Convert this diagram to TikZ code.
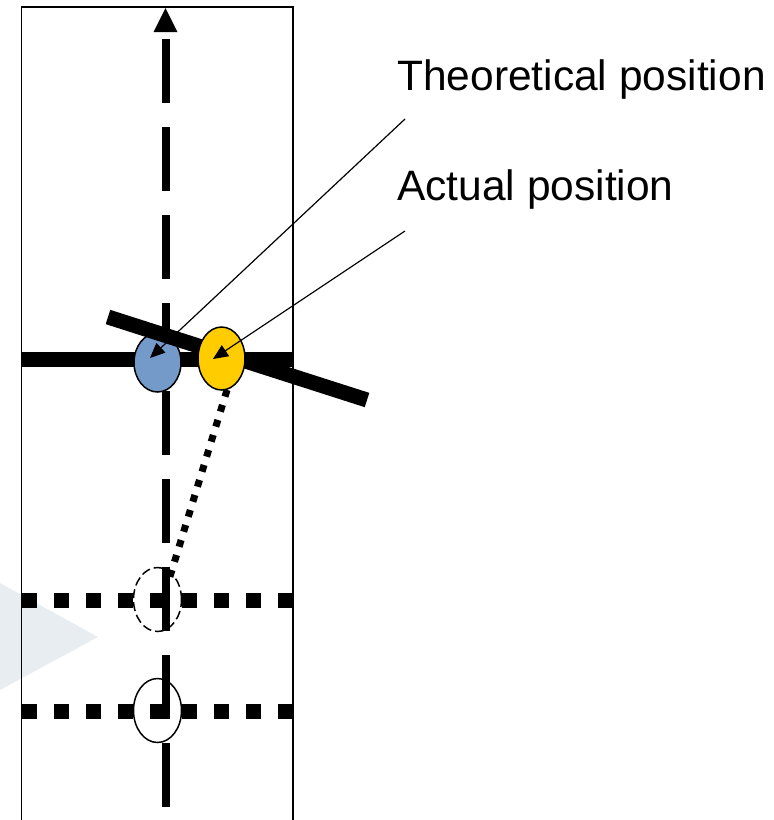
\documentclass[tikz,border=0pt]{standalone}
\usepackage{fontspec}
\setmainfont{Liberation Sans}
\usetikzlibrary{arrows.meta,shapes.geometric}
\definecolor{theoblue}{RGB}{115,154,200}
\definecolor{actyellow}{RGB}{255,204,0}
\definecolor{wmark}{RGB}{232,237,242}
\begin{document}
\begin{tikzpicture}[x=1pt,y=-1pt,
  frame/.style={draw=black,line width=1.3pt},
  axisline/.style={line width=8pt,dash pattern=on 64pt off 24pt},
  thickline/.style={line width=15pt},
  dotline/.style={line width=15pt,dash pattern=on 15pt off 17pt},
  traceline/.style={line width=7pt,dash pattern=on 7pt off 8.7pt},
  posell/.style={ellipse,draw=black,line width=1.5pt,inner sep=0pt,minimum width=47pt},
  callout/.style={line width=1.2pt,-{Triangle[length=15pt,width=13pt]}},
  lbl/.style={inner sep=0pt,anchor=base west,font=\fontsize{42.5}{50}\selectfont}]
\useasboundingbox (0,0) rectangle (774,820);
\clip (0,0) rectangle (774,820);
% watermark
\fill[wmark] (0,583) -- (98,637) -- (0,690) -- cycle;
% frame
\draw[frame] (21.5,7) rectangle (293,840);
% vertical axis
\coordinate (vbot) at (165.5,807);
\coordinate (vtop) at (165.5,39);
\draw[axisline] (vbot) -- (vtop);
\fill (153.5,32) -- (177.5,32) -- (165.5,8) -- cycle;
% horizontal thick line
\coordinate (hl) at (21.5,359);
\coordinate (hr) at (293,359);
\draw[thickline] (hl) -- (hr);
% dotted lines
\coordinate (d1l) at (22,600);
\coordinate (d1r) at (293,600);
\coordinate (d2l) at (22,711);
\coordinate (d2r) at (293,711);
\draw[dotline] (d1l) -- (d1r);
\draw[dotline] (d2l) -- (d2r);
% theoretical ellipse
\node[posell,fill=theoblue,minimum height=59pt] (theo) at (157.5,362.5) {};
% tilted line
\coordinate (tl) at (108,317);
\coordinate (tr) at (367,400);
\draw[thickline] (tl) -- (tr);
% actual ellipse
\node[posell,fill=actyellow,minimum height=63pt] (act) at (221.5,358.5) {};
% previous / original positions
\node[posell,dash pattern=on 9pt off 4pt,minimum width=48pt,minimum height=64pt] (prev) at (157.5,599.5) {};
\node[posell,minimum width=48pt,minimum height=64pt] (orig) at (157.5,710.5) {};
% trace
\coordinate (trend) at (168,583);
\draw[traceline] (act.-80) -- (trend);
% labels
\node[lbl] (tlabel) at (397,90) {Theoretical position};
\node[lbl] (alabel) at (397,200) {Actual position};
\coordinate (tstart) at (405,119);
\coordinate (astart) at (405,231);
\coordinate (ttip) at (150,358);
\coordinate (atip) at (213,359);
\draw[callout] (tstart) -- (ttip);
\draw[callout] (astart) -- (atip);
\end{tikzpicture}
\end{document}
